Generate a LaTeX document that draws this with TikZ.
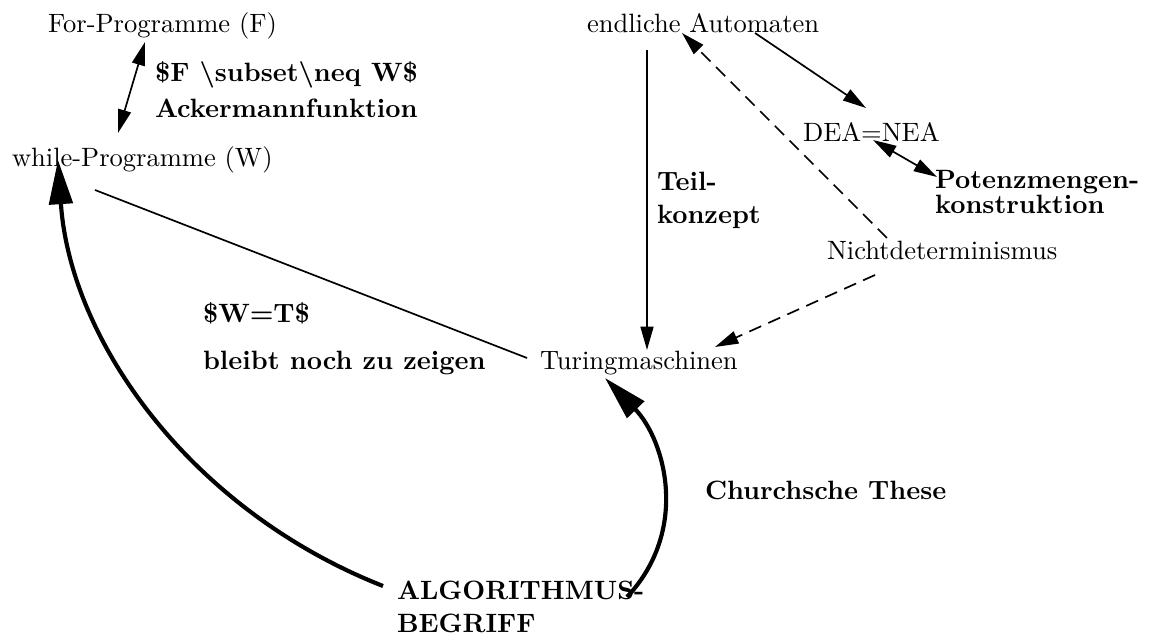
\documentclass[tikz,border=0pt]{standalone}
\usetikzlibrary{arrows.meta}
\begin{document}
\begin{tikzpicture}[x=0.3846pt,y=-0.3846pt,
  lbl/.style={anchor=base west,inner sep=0pt,outer sep=0pt,font=\fontsize{10.2}{12}\selectfont},
  blbl/.style={lbl,font=\fontsize{10.2}{12}\selectfont\bfseries},
  thin/.style={line width=0.65pt},
  tarrow/.style={thin,-{Triangle[length=9pt,width=5pt]}},
  tdarrow/.style={thin,{Triangle[length=9pt,width=5pt]}-{Triangle[length=9pt,width=5pt]}},
  dasharrow/.style={tarrow,dash pattern=on 5pt off 3pt},
  thickarrow/.style={line width=1.6pt,-{Triangle[length=17pt,width=9pt]}}]
\useasboundingbox (0,0) rectangle (1151,637);
% nodes
\node[lbl] (F) at (48,33) {For-Programme (F)};
\node[lbl] (W) at (12,167) {while-Programme (W)};
\node[blbl] (FWa) at (155,82) {\$F \textbackslash subset\textbackslash neq W\$};
\node[blbl] (FWb) at (155,118) {Ackermannfunktion};
\node[blbl] (WTa) at (203,323) {\$W=T\$};
\node[blbl] (WTb) at (203,370) {bleibt noch zu zeigen};
\node[lbl] (T) at (540,370) {Turingmaschinen};
\node[blbl] (A1) at (397,600) {ALGORITHMUS-};
\node[blbl] (A2) at (397,633) {BEGRIFF};
\node[blbl] (C) at (705,500) {Churchsche These};
\node[lbl] (E) at (587,33) {endliche Automaten};
\node[blbl] (TK1) at (657,191) {Teil-};
\node[blbl] (TK2) at (657,224) {konzept};
\node[lbl] (D) at (803,142) {DEA=NEA};
\node[blbl] (P1) at (935,189) {Potenzmengen-};
\node[blbl] (P2) at (935,214) {konstruktion};
\node[lbl] (N) at (827,260) {Nichtdeterminismus};
% connectors
\draw[tdarrow] ([shift={(97,9)}]F.base west) -- ([shift={(106,-34)}]W.base west);
\draw[thin] ([shift={(83,23)}]W.base west) -- ([shift={(-13,-12)}]T.base west);
\draw[thickarrow] ([shift={(-14,-14)}]A1.base west) .. controls (190,510) and (70,340) .. ([shift={(46,-7)}]W.base west);
\draw[thickarrow] ([shift={(230,-3)}]A1.base west) .. controls (690,530) and (665,440) .. ([shift={(65,8)}]T.base west);
\draw[tarrow] ([shift={(60,17)}]E.base west) -- ([shift={(107,-20)}]T.base west);
\draw[tarrow] ([shift={(168,0)}]E.base west) -- ([shift={(63,-34)}]D.base west);
\draw[tdarrow] ([shift={(70,-2)}]D.base west) -- ([shift={(2,-12)}]P1.base west);
\draw[dasharrow] ([shift={(60,-22)}]N.base west) -- ([shift={(95,0)}]E.base west);
\draw[dasharrow] ([shift={(48,15)}]N.base west) -- ([shift={(175,-23)}]T.base west);
\end{tikzpicture}
\end{document}
